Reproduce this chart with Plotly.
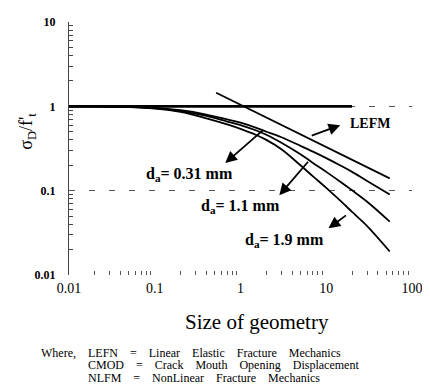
import plotly.graph_objects as go

# ---- data ----
size_x = [0.01, 0.02, 0.05, 0.1, 0.2, 0.4, 0.7, 1, 1.5, 2, 3, 5, 7, 10, 15, 20, 30, 55]
curve_031 = [1.0, 1.0, 0.99, 0.96, 0.90, 0.80, 0.70, 0.64, 0.56, 0.50, 0.43, 0.34, 0.29, 0.243, 0.196, 0.167, 0.13, 0.09]
curve_11 = [1.0, 1.0, 0.98, 0.95, 0.88, 0.77, 0.66, 0.60, 0.52, 0.46, 0.37, 0.27, 0.213, 0.167, 0.125, 0.101, 0.074, 0.043]
curve_19 = [1.0, 0.99, 0.98, 0.94, 0.86, 0.72, 0.61, 0.54, 0.46, 0.40, 0.31, 0.20, 0.148, 0.108, 0.074, 0.056, 0.038, 0.019]
strength_x = [0.01, 20]
strength_y = [1.0, 1.0]
lefm_x = [0.52, 55]
lefm_y = [1.45, 0.14]
x_ticks = [0.01, 0.1, 1, 10, 100]
x_tick_text = ["0.01", "0.1", "1", "10", "100"]
y_ticks = [0.01, 0.1, 1, 10]
y_tick_text = ["<b>0.01</b>", "<b>0.1</b>", "<b>1</b>", "<b>10</b>"]
minor_x = [m * 10 ** e for e in (-2, -1, 0, 1) for m in range(2, 10)]
minor_y = [m * 10 ** e for e in (-2, -1, 0) for m in range(2, 10)]

SERIF = "Liberation Serif"

fig = go.Figure()
fig.add_trace(go.Scatter(x=strength_x, y=strength_y, mode="lines",
                         line=dict(color="black", width=2.6), showlegend=False))
fig.add_trace(go.Scatter(x=lefm_x, y=lefm_y, mode="lines",
                         line=dict(color="black", width=1.8), showlegend=False))
for ys in (curve_031, curve_11, curve_19):
    fig.add_trace(go.Scatter(x=size_x, y=ys, mode="lines", line_shape="spline",
                             line=dict(color="black", width=1.8), showlegend=False))

fig.update_xaxes(type="log", range=[-2, 2], tickvals=x_ticks, ticktext=x_tick_text,
                 showgrid=False, zeroline=False, showline=False,
                 ticks="", ticklabelstandoff=3,
                 minor=dict(tickvals=minor_x, ticks="inside", ticklen=4, tickcolor="#555",
                            tickwidth=1, showgrid=False),
                 tickfont=dict(family=SERIF, size=14, color="black"))
fig.update_yaxes(type="log", range=[-2, 1], tickvals=y_ticks, ticktext=y_tick_text,
                 showgrid=True, gridcolor="#555", gridwidth=1, griddash="6px,14px",
                 zeroline=False, showline=True, linecolor="#444", linewidth=1,
                 ticks="", ticklabelstandoff=10,
                 minor=dict(tickvals=minor_y, ticks="inside", ticklen=4, tickcolor="#444",
                            tickwidth=1, showgrid=False),
                 tickfont=dict(family=SERIF, size=12, color="black"))

# page body adds 8px offset: design in screen pixels, then subtract 8
OFF = 8
W, H = 430 - OFF, 389 - OFF
L, R, T, B = 69 - OFF, 12, 15 - OFF, 114
pw, ph = W - L - R, H - T - B

def px(xs, ys):
    return ((xs - OFF) - L) / pw, (H - B - (ys - OFF)) / ph

bold = dict(family=SERIF, size=16, color="black")
ann = []
for hx, hy, ax, ay in [(1.163, -0.223, -30, 11), (-0.178, -0.673, 39, -34),
                       (0.453, -1.054, 30, -35), (1.026, -1.446, 19, -14)]:
    ann.append(dict(x=hx, y=hy, xref="x", yref="y", ax=ax, ay=ay, showarrow=True,
                    arrowhead=2, arrowsize=1.3, arrowwidth=1.8, arrowcolor="black", text=""))
for x, y, t, f in [(1.507, -0.2, "<b>LEFM</b>", dict(family=SERIF, size=14, color="black")),
                   (-0.59, -0.811, "<b>d<sub>a</sub>= 0.31 mm</b>", bold),
                   (0.0, -1.192, "<b>d<sub>a</sub>= 1.1 mm</b>", bold),
                   (0.51, -1.596, "<b>d<sub>a</sub>= 1.9 mm</b>", bold)]:
    ann.append(dict(x=x, y=y, xref="x", yref="y", text=t, showarrow=False,
                    xanchor="center", yanchor="middle", font=f))
x0, y0 = px(27, 127)
ann.append(dict(x=x0, y=y0, xref="paper", yref="paper", text="σ<sub>D</sub>/f'<sub>t</sub>",
                textangle=-90, showarrow=False, xanchor="center", yanchor="middle",
                font=dict(family=SERIF, size=18, color="black")))
x0, y0 = px(260, 323)
ann.append(dict(x=x0, y=y0, xref="paper", yref="paper", text="Size of geometry", showarrow=False,
                xanchor="center", yanchor="middle",
                font=dict(family=SERIF, size=21, color="black")))
foot = dict(family=SERIF, size=12, color="black")
sp = "&nbsp;&nbsp;&nbsp;"
x0, y0 = px(78, 355)
ann.append(dict(x=x0, y=y0, xref="paper", yref="paper", text="Where,", showarrow=False,
                xanchor="right", yanchor="middle", font=dict(family=SERIF, size=12, color="black")))
for xs, ys, t in [(86, 355, "LEFN" + sp + " = " + sp + "Linear" + sp + " Elastic" + sp + " Fracture" + sp + " Mechanics"),
                  (86, 368, "CMOD" + sp + " = " + sp + "Crack" + sp + " Mouth" + sp + " Opening" + sp + " Displacement"),
                  (86, 381, "NLFM" + sp + " = " + sp + "NonLinear" + sp + " Fracture" + sp + " Mechanics")]:
    x0, y0 = px(xs, ys)
    ann.append(dict(x=x0, y=y0, xref="paper", yref="paper", text=t, showarrow=False,
                    xanchor="left", yanchor="middle", font=foot))

fig.update_layout(width=W, height=H, margin=dict(l=L, r=R, t=T, b=B),
                  plot_bgcolor="white", paper_bgcolor="white", annotations=ann)
fig.write_html("out.html")
